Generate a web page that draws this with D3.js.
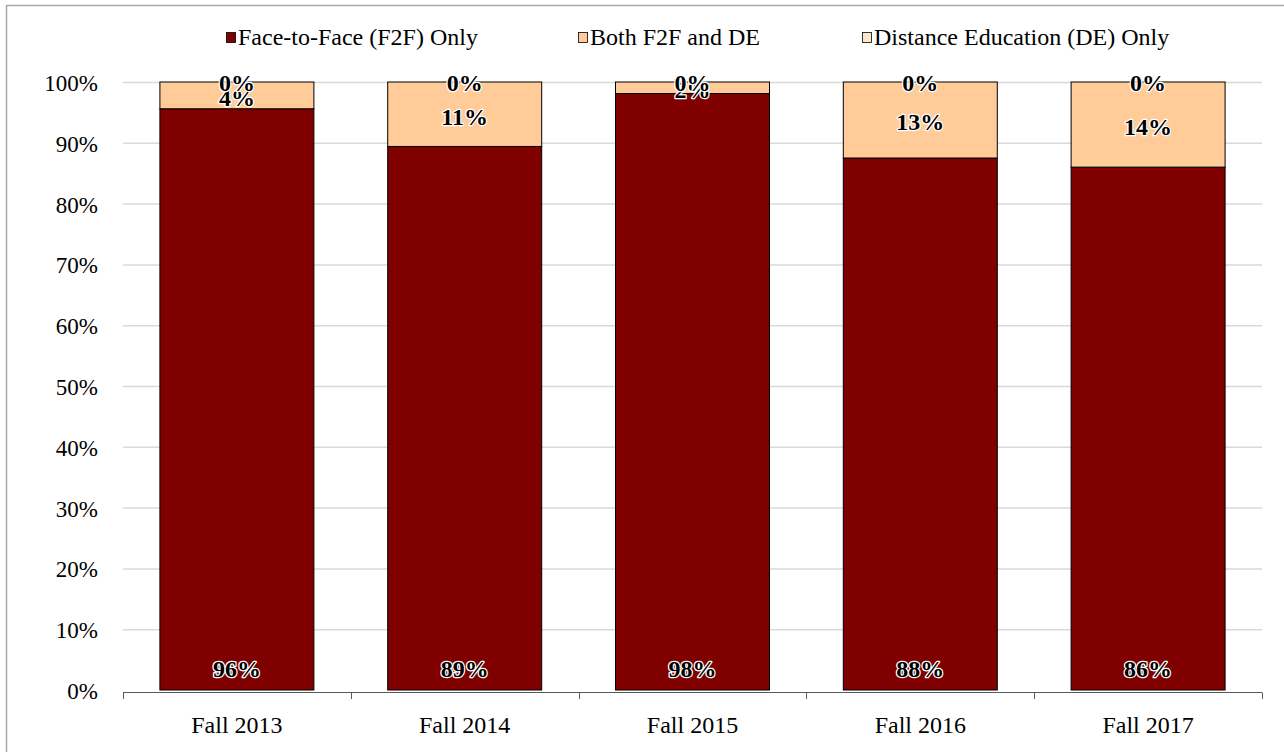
<!DOCTYPE html>
<html>
<head>
<meta charset="utf-8">
<script src="https://cdn.jsdelivr.net/npm/d3@7.9.0/dist/d3.min.js"></script>
<style>
  body { margin: 0; background: #fff; }
  svg { display: block; }
  text { font-family: "Liberation Serif", "Times New Roman", serif; }
  .val { font-weight: bold; font-size: 24px; fill: #000; stroke: #fff; stroke-width: 2.5px; paint-order: stroke; stroke-linejoin: round; }
</style>
</head>
<body>
<svg id="chart" width="1284" height="752"></svg>
<script>
const terms = ['Fall 2013', 'Fall 2014', 'Fall 2015', 'Fall 2016', 'Fall 2017'];
const f2fOnly = [95.6, 89.4, 98.1, 87.5, 86.0];
const bothF2fDe = [4.4, 10.6, 1.9, 12.5, 14.0];
const deOnly = [0, 0, 0, 0, 0];
const seriesNames = ['Face-to-Face (F2F) Only', 'Both F2F and DE', 'Distance Education (DE) Only'];
const yTicks = [0, 10, 20, 30, 40, 50, 60, 70, 80, 90, 100];

const colors = ['#800000', '#ffcc99', '#ffe6cc'];
const svg = d3.select('#chart');

// outer frame
svg.append('rect')
  .attr('x', 6.5).attr('y', 5.5)
  .attr('width', 1400).attr('height', 900)
  .attr('fill', 'none').attr('stroke', '#a6a6a6').attr('stroke-width', 1.5);

const plotLeft = 123, plotRight = 1262, plotTop = 82, plotBottom = 690;

const x = d3.scaleBand().domain(terms).range([plotLeft, plotRight]).paddingInner(0.324).paddingOuter(0.162);
const y = d3.scaleLinear().domain([0, 100]).range([plotBottom, plotTop]);

// gridlines
svg.append('g')
  .selectAll('line')
  .data(yTicks.filter(t => t > 0))
  .join('line')
  .attr('x1', plotLeft).attr('x2', plotRight)
  .attr('y1', d => y(d) + 0.5).attr('y2', d => y(d) + 0.5)
  .attr('stroke', '#d9d9d9').attr('stroke-width', 1.5);

// y labels
svg.append('g')
  .selectAll('text')
  .data(yTicks)
  .join('text')
  .attr('x', 98)
  .attr('y', d => y(d) + 1)
  .attr('dy', '0.35em')
  .attr('text-anchor', 'end')
  .attr('font-size', 23)
  .text(d => d + '%');

// stacked data
const rows = terms.map((t, i) => ({ term: t, f2f: f2fOnly[i], both: bothF2fDe[i], de: deOnly[i] }));
const stack = d3.stack().keys(['f2f', 'both', 'de'])(rows);

stack.forEach((layer, k) => {
  svg.append('g')
    .selectAll('rect')
    .data(layer)
    .join('rect')
    .attr('x', d => x(d.data.term))
    .attr('width', x.bandwidth())
    .attr('y', d => y(d[1]))
    .attr('height', d => y(d[0]) - y(d[1]))
    .attr('fill', colors[k])
    .attr('stroke', '#000')
    .attr('stroke-width', k === 2 ? 0 : 1);
});

// x axis
const xAxis = svg.append('g');
xAxis.append('line')
  .attr('x1', plotLeft).attr('x2', plotRight)
  .attr('y1', plotBottom + 2.5).attr('y2', plotBottom + 2.5)
  .attr('stroke', '#595959').attr('stroke-width', 1);
const bounds = terms.map(t => x(t) - x.step() * x.paddingInner() / 2);
bounds[0] = plotLeft;
bounds.push(plotRight);
xAxis.selectAll('.tick')
  .data(bounds)
  .join('line')
  .attr('x1', d => Math.round(d) + 0.5).attr('x2', d => Math.round(d) + 0.5)
  .attr('y1', plotBottom + 2.5).attr('y2', plotBottom + 9)
  .attr('stroke', '#595959');
xAxis.selectAll('text')
  .data(terms)
  .join('text')
  .attr('x', d => x(d) + x.bandwidth() / 2)
  .attr('y', 725)
  .attr('dy', '0.35em')
  .attr('text-anchor', 'middle')
  .attr('font-size', 24)
  .text(d => d);

// value labels
const labels = svg.append('g');
labels.selectAll('.f2f')
  .data(rows)
  .join('text')
  .attr('class', 'val')
  .attr('x', d => x(d.term) + x.bandwidth() / 2)
  .attr('y', y(3.6))
  .attr('dy', '0.35em')
  .attr('text-anchor', 'middle')
  .text(d => Math.round(d.f2f) + '%');
labels.selectAll('.both')
  .data(rows)
  .join('text')
  .attr('class', 'val')
  .attr('x', d => x(d.term) + x.bandwidth() / 2)
  .attr('y', d => y(d.f2f + d.both / 2) + 2)
  .attr('dy', '0.35em')
  .attr('text-anchor', 'middle')
  .text(d => Math.round(d.both) + '%');
labels.selectAll('.de')
  .data(rows)
  .join('text')
  .attr('class', 'val')
  .attr('x', d => x(d.term) + x.bandwidth() / 2)
  .attr('y', d => y(100 - d.de / 2) + 1)
  .attr('dy', '0.35em')
  .attr('text-anchor', 'middle')
  .text(d => Math.round(d.de) + '%');

// legend
const legendX = [226, 578, 862];
const legend = svg.append('g');
seriesNames.forEach((name, i) => {
  legend.append('rect')
    .attr('x', legendX[i] + 0.5).attr('y', 32.5)
    .attr('width', 9).attr('height', 10)
    .attr('fill', colors[i]).attr('stroke', '#000').attr('stroke-width', 0.8);
  legend.append('text')
    .attr('x', legendX[i] + 12)
    .attr('y', 37)
    .attr('dy', '0.35em')
    .attr('font-size', 24)
    .text(name);
});
</script>
</body>
</html>
